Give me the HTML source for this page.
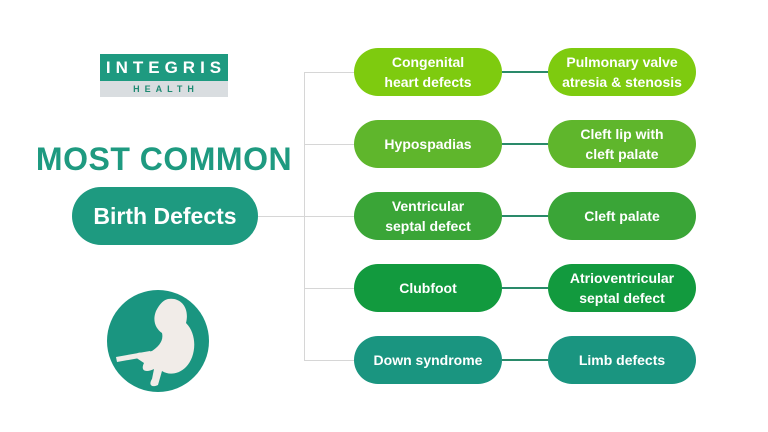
<!DOCTYPE html>
<html><head><style>
body{margin:0;width:768px;height:432px;background:#fff;position:relative;overflow:hidden;font-family:"Liberation Sans",Arial,sans-serif}
.n{position:absolute;width:148px;height:48px;border-radius:24px;color:#fff;font-weight:bold;font-size:14px;line-height:20px;display:flex;align-items:center;justify-content:center;text-align:center;box-sizing:border-box;padding:0 4px}
.h{position:absolute;height:1px;background:#d6d6d6}
.c{position:absolute;height:2px;background:#2a8a6a;left:502px;width:46px}
</style></head><body>
<div style="position:absolute;left:100px;top:54px;width:128px;height:27px;background:#1e9a80;color:#fff;font-size:17px;font-weight:bold;letter-spacing:5px;text-align:center;line-height:27px;padding-left:4px;box-sizing:border-box">INTEGRIS</div>
<div style="position:absolute;left:100px;top:81px;width:128px;height:16px;background:#d9dde0;color:#1e8a72;font-size:9px;font-weight:bold;letter-spacing:5px;text-align:center;line-height:16px;padding-left:4px;box-sizing:border-box">HEALTH</div>
<div style="position:absolute;left:20px;top:139px;width:288px;text-align:center;color:#1e9a80;font-size:32px;font-weight:bold;line-height:40px;letter-spacing:0.5px">MOST COMMON</div>
<div style="position:absolute;left:72px;top:187px;width:186px;height:58px;border-radius:29px;background:#1e9a80;color:#fff;font-size:23px;font-weight:bold;display:flex;align-items:center;justify-content:center">Birth Defects</div>
<div class="h" style="left:258px;top:216px;width:46px"></div>
<div style="position:absolute;left:304px;top:72px;width:1px;height:288px;background:#d6d6d6"></div>
<div class="h" style="left:304px;top:72px;width:50px"></div>
<div class="h" style="left:304px;top:144px;width:50px"></div>
<div class="h" style="left:304px;top:216px;width:50px"></div>
<div class="h" style="left:304px;top:288px;width:50px"></div>
<div class="h" style="left:304px;top:360px;width:50px"></div>
<div class="c" style="top:71px"></div><div class="c" style="top:143px"></div><div class="c" style="top:215px"></div><div class="c" style="top:287px"></div><div class="c" style="top:359px"></div>
<div class="n" style="left:354px;top:48px;background:#7ecb0f">Congenital<br>heart defects</div>
<div class="n" style="left:548px;top:48px;background:#7ecb0f">Pulmonary valve<br>atresia &amp; stenosis</div>
<div class="n" style="left:354px;top:120px;background:#5fb62c">Hypospadias</div>
<div class="n" style="left:548px;top:120px;background:#5fb62c">Cleft lip with<br>cleft palate</div>
<div class="n" style="left:354px;top:192px;background:#3aa537">Ventricular<br>septal defect</div>
<div class="n" style="left:548px;top:192px;background:#3aa537">Cleft palate</div>
<div class="n" style="left:354px;top:264px;background:#129a3e">Clubfoot</div>
<div class="n" style="left:548px;top:264px;background:#129a3e">Atrioventricular<br>septal defect</div>
<div class="n" style="left:354px;top:336px;background:#1a9580">Down syndrome</div>
<div class="n" style="left:548px;top:336px;background:#1a9580">Limb defects</div>
<svg style="position:absolute;left:106px;top:289px" width="104" height="104" viewBox="0 0 104 104">
<circle cx="52" cy="52" r="51" fill="#1a9580"/>
<path d="M62 10 C74 8 84 18 80 34 C92 46 90 68 80 78 C72 86 62 86 56 82 L52 96 C46 99 42 96 46 90 L48 80 C40 84 34 82 38 74 L32 70 C28 68 30 62 36 64 L46 62 C52 58 58 52 56 44 C50 40 46 32 50 22 C54 14 58 11 62 10 Z" fill="#f1ece8"/>
<path d="M10 68 L44 62 L45 67 L11 73 Z" fill="#f1ece8"/>
</svg>
</body></html>
